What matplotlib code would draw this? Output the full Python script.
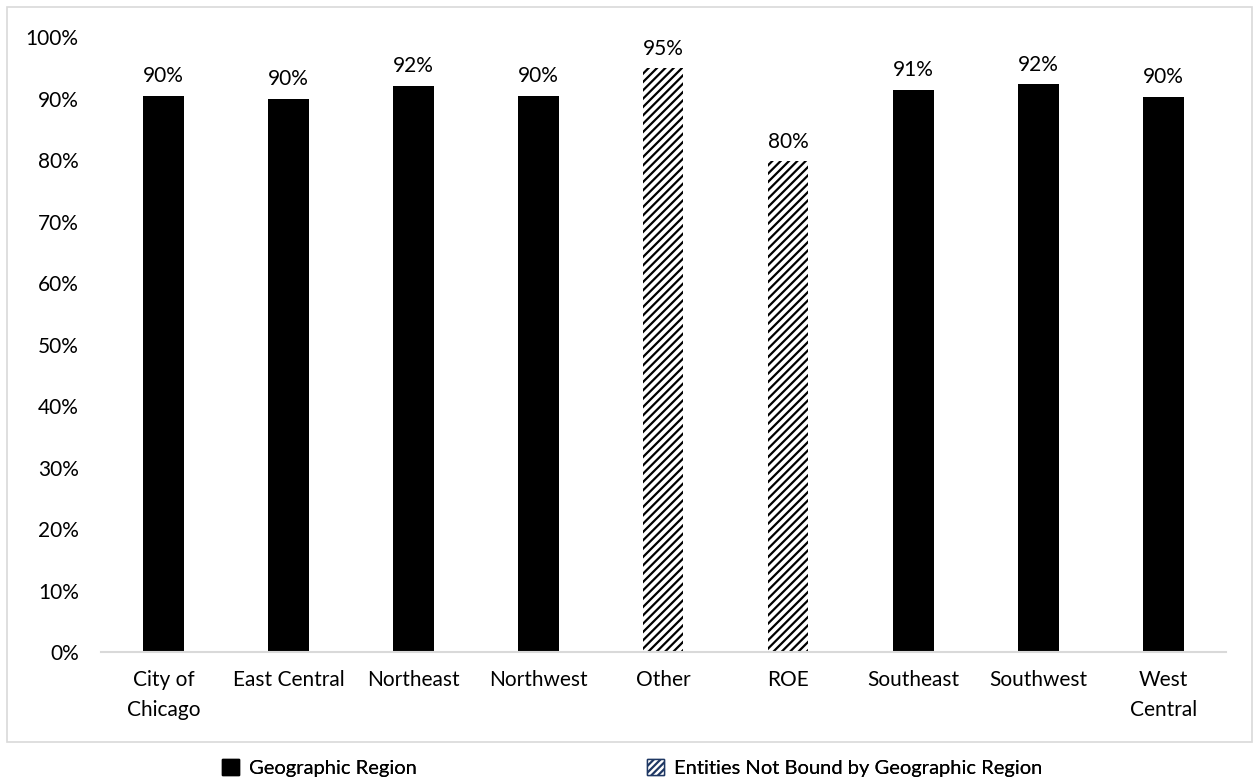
import matplotlib
matplotlib.use("Agg")
import matplotlib.pyplot as plt
from matplotlib.patches import Rectangle, Patch
from matplotlib.ticker import PercentFormatter

plt.rcParams['font.family'] = ['Lato', 'DejaVu Sans']
plt.rcParams['hatch.linewidth'] = 1.6

# data (shares of 1)
regions = ["City of\nChicago", "East Central", "Northeast", "Northwest", "Other",
           "ROE", "Southeast", "Southwest", "West\nCentral"]
rates = [0.904, 0.899, 0.921, 0.904, 0.949, 0.798, 0.914, 0.923, 0.903]
not_bound = [False, False, False, False, True, True, False, False, False]
yticks = [0, 0.1, 0.2, 0.3, 0.4, 0.5, 0.6, 0.7, 0.8, 0.9, 1.0]

fig = plt.figure(figsize=(12.59, 7.83), dpi=100)
ax = fig.add_axes([0.0802, 0.1673, 0.8936, 0.7854])

x = range(len(regions))
for i, (v, nb) in enumerate(zip(rates, not_bound)):
    if nb:
        ax.bar(i, v, width=0.32, color="white", edgecolor="black",
               hatch="////", linewidth=0)
    else:
        ax.bar(i, v, width=0.33, color="black")
    ax.annotate(f"{v:.0%}", (i, v), xytext=(0, 7), textcoords="offset points",
                ha="center", va="bottom", fontsize=15)

ax.set_xlim(-0.5, len(regions) - 0.5)
ax.set_ylim(0, 1)
ax.set_yticks(yticks)
ax.yaxis.set_major_formatter(PercentFormatter(1.0, decimals=0))
ax.set_xticks(list(x))
ax.set_xticklabels(regions, linespacing=1.6)
ax.tick_params(axis="both", length=0, labelsize=15)
ax.tick_params(axis="y", pad=16)
ax.tick_params(axis="x", pad=13)
for s in ["top", "right", "left"]:
    ax.spines[s].set_visible(False)
ax.spines["bottom"].set_color("#d9d9d9")
ax.spines["bottom"].set_linewidth(1.5)

# outer chart frame
fig.patches.append(Rectangle((7 / 1259, 1 - 742 / 783), 1245 / 1259, 735 / 783,
                             transform=fig.transFigure, fill=False,
                             edgecolor="#d9d9d9", linewidth=1.2))

legend_items = [
    (Patch(facecolor="black", edgecolor="black", label="Geographic Region"), 222),
    (Patch(facecolor="white", edgecolor="#1f3864", hatch="/////",
           label="Entities Not Bound by Geographic Region"), 647),
]
for handle, xpix in legend_items:
    leg = fig.legend(handles=[handle], loc="center left",
                     bbox_to_anchor=(xpix / 1259, 1 - 768 / 783),
                     frameon=False, fontsize=14.5, handlelength=0.85,
                     handleheight=0.85, handletextpad=0.5, borderpad=0,
                     borderaxespad=0)
    fig.add_artist(leg)

fig.savefig("out.png", dpi=100)
